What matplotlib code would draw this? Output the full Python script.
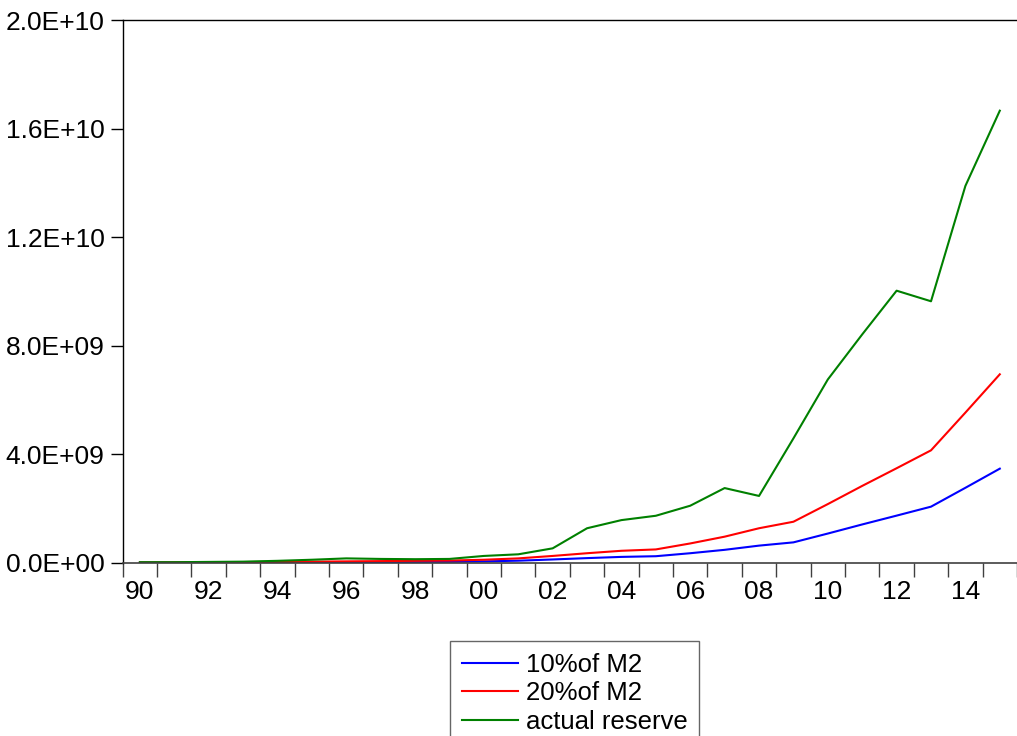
import matplotlib
matplotlib.use("Agg")
import matplotlib.pyplot as plt

# -----------------------------------
# Data (1990 - 2015)
# -----------------------------------
years = list(range(1990, 2016))

m2_10pct = [0.01, 0.0125, 0.015, 0.0175, 0.02, 0.025, 0.03, 0.035, 0.04, 0.045,
            0.06, 0.085, 0.13, 0.18, 0.225, 0.25, 0.36, 0.485, 0.64, 0.76,
            1.085, 1.42, 1.745, 2.075, 2.77, 3.475]
m2_20pct = [0.02, 0.025, 0.03, 0.035, 0.04, 0.05, 0.06, 0.07, 0.08, 0.09,
            0.12, 0.17, 0.26, 0.36, 0.45, 0.50, 0.72, 0.97, 1.28, 1.52,
            2.17, 2.84, 3.49, 4.15, 5.54, 6.95]
actual_reserve = [0.03, 0.03, 0.04, 0.05, 0.08, 0.12, 0.17, 0.15, 0.14, 0.15,
                  0.26, 0.32, 0.54, 1.28, 1.58, 1.74, 2.11, 2.76, 2.47, 4.59,
                  6.76, 8.42, 10.03, 9.64, 13.89, 16.66]

series_labels = ["10%of M2", "20%of M2", "actual reserve"]
series_colors = ["#0000ff", "#ff0000", "#008000"]
y_ticks = [0, 4e9, 8e9, 1.2e10, 1.6e10, 2.0e10]
y_tick_labels = ["0.0E+00", "4.0E+09", "8.0E+09", "1.2E+10", "1.6E+10", "2.0E+10"]

plt.rcParams["font.family"] = ["Liberation Sans", "DejaVu Sans"]

# -----------------------------------
# Plot
# -----------------------------------
fig = plt.figure(figsize=(10.17, 7.36), dpi=100)
ax = fig.add_axes([122.7 / 1017, 173 / 736, (1017 - 122.7) / 1017, 543 / 736])

xpos = [y - years[0] + 0.5 for y in years]
values = [m2_10pct, m2_20pct, actual_reserve]
for vals, lab, col in zip(values, series_labels, series_colors):
    ax.plot(xpos, [v * 1e9 for v in vals], color=col, lw=1.5, label=lab)

ax.set_xlim(0, (1017 - 122.7) / 34.78)
ax.set_ylim(0, 2.0e10)

# year boundary ticks, labels centred in every other year
ax.set_xticks(range(0, len(years) + 1))
ax.set_xticklabels([])
ax.set_xticks([i + 0.5 for i, y in enumerate(years) if y % 2 == 0], minor=True)
ax.set_xticklabels(["%02d" % (y % 100) for y in years if y % 2 == 0], minor=True)
ax.tick_params(axis="x", which="major", direction="out", length=10, width=1, color="#404040")
ax.tick_params(axis="x", which="minor", length=0, pad=12, labelsize=19)

ax.set_yticks(y_ticks)
ax.set_yticklabels(y_tick_labels)
ax.tick_params(axis="y", direction="out", length=9, width=1, pad=4, labelsize=19)

ax.spines["right"].set_visible(False)
for side in ["left", "top"]:
    ax.spines[side].set_color("black")
    ax.spines[side].set_linewidth(1.0)
ax.spines["bottom"].set_color("#404040")
ax.spines["bottom"].set_linewidth(1.2)

leg = fig.legend(loc="upper left", bbox_to_anchor=(450 / 1017, 1 - 641 / 736),
                 fontsize=18.5, frameon=True, fancybox=False, shadow=False,
                 handlelength=2.2, handletextpad=0.3, labelspacing=0.18,
                 borderpad=0.45, borderaxespad=0)
leg.get_frame().set_edgecolor("#404040")
leg.get_frame().set_linewidth(1.0)

fig.savefig("out.png", dpi=100)
